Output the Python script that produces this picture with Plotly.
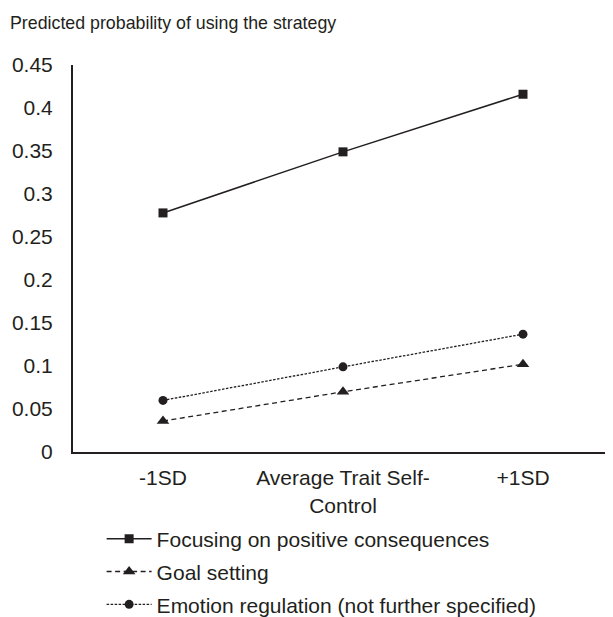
import plotly.graph_objects as go

categories = ["-1SD", "Average Trait Self-<br>Control", "+1SD"]
focusing = [0.278, 0.349, 0.416]
goal_setting = [0.036, 0.070, 0.102]
emotion_reg = [0.060, 0.099, 0.137]

ink = "#231f20"
font_family = "Liberation Sans, Arial, sans-serif"

# page body has an 8px default margin; figure is sized/offset to compensate
W, H = 605, 609

fig = go.Figure()
fig.add_trace(go.Scatter(
    x=[0, 1, 2], y=focusing, mode="lines+markers",
    name="Focusing on positive consequences", legendgroup="a",
    line=dict(color=ink, width=1.5, dash="solid"),
    marker=dict(symbol="square", size=9, color=ink),
))
fig.add_trace(go.Scatter(
    x=[0, 1, 2], y=goal_setting, mode="lines+markers",
    name="Goal setting", legendgroup="b",
    line=dict(color=ink, width=1.3, dash="5px,3.5px"),
    marker=dict(symbol="triangle-up", size=11, color=ink),
))
fig.add_trace(go.Scatter(
    x=[0, 1, 2], y=emotion_reg, mode="lines+markers",
    name="Emotion regulation (not further specified)", legendgroup="c",
    line=dict(color=ink, width=1.3, dash="2.5px,1.5px"),
    marker=dict(symbol="circle", size=9, color=ink),
))

fig.update_layout(
    width=W, height=H,
    margin=dict(l=65, r=0, t=57, b=165, autoexpand=False),
    paper_bgcolor="white", plot_bgcolor="white",
    font=dict(family=font_family, size=21, color=ink),
    showlegend=True,
    legend=dict(
        x=0.053, y=-0.172, xanchor="left", yanchor="top",
        font=dict(size=21), tracegroupgap=2.5, itemwidth=45,
        bgcolor="rgba(0,0,0,0)",
    ),
    title=dict(
        text="Predicted probability of using the strategy",
        xref="container", x=2/W, xanchor="left",
        yref="container", y=1 - 15/H, yanchor="middle",
        font=dict(size=17.8, color=ink),
    ),
)
fig.update_xaxes(
    range=[-0.5, 2.5], tickmode="array", tickvals=[0, 1, 2], ticktext=categories,
    showline=True, linecolor=ink, linewidth=2, showgrid=False, zeroline=False,
    ticks="", ticklabelstandoff=6, fixedrange=True,
)
fig.update_yaxes(
    range=[0, 0.45], tickmode="array",
    tickvals=[0, 0.05, 0.1, 0.15, 0.2, 0.25, 0.3, 0.35, 0.4, 0.45],
    ticktext=["0", "0.05", "0.1", "0.15", "0.2", "0.25", "0.3", "0.35", "0.4", "0.45"],
    showline=True, linecolor=ink, linewidth=2, showgrid=False, zeroline=False,
    ticks="", ticklabelstandoff=14, fixedrange=True,
)

fig.write_html("out.html")
